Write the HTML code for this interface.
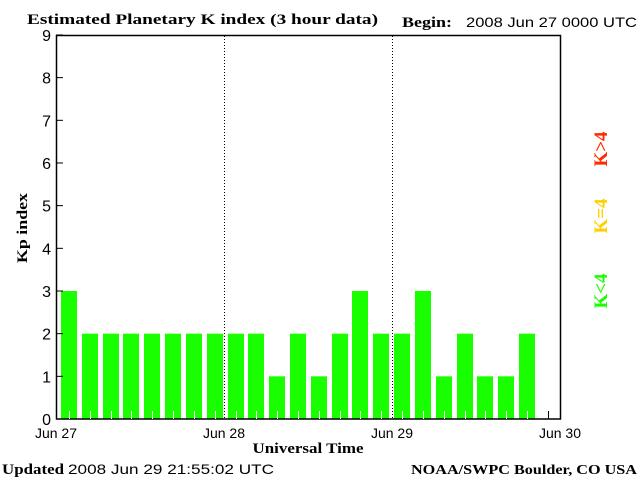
<!DOCTYPE html>
<html><head><meta charset="utf-8"><style>
body{margin:0;background:#fff;width:640px;height:480px;overflow:hidden}
</style></head><body>
<svg width="640" height="480" xmlns="http://www.w3.org/2000/svg" font-family="Liberation Sans, sans-serif">
<rect width="640" height="480" fill="#fff"/>
<text x="27" y="24" font-family="Liberation Serif, serif" font-weight="bold" font-size="15" textLength="351" lengthAdjust="spacingAndGlyphs">Estimated Planetary K index (3 hour data)</text>
<text x="402" y="27" font-family="Liberation Serif, serif" font-weight="bold" font-size="15" textLength="50" lengthAdjust="spacingAndGlyphs">Begin:</text>
<text x="466" y="27" font-size="14" textLength="171" lengthAdjust="spacingAndGlyphs">2008 Jun 27 0000 UTC</text>
<g fill="#1aff00" id="bars"></g>
<g stroke="#000" stroke-width="1" stroke-dasharray="1,2">
<line x1="224.5" y1="36" x2="224.5" y2="419"/>
<line x1="392.5" y1="36" x2="392.5" y2="419"/>
</g>
<rect x="56.5" y="35.5" width="504" height="383.5" fill="none" stroke="#000" stroke-width="1.5"/>
<g id="ticks" stroke="#000"></g>
<g font-size="16" text-anchor="end" id="ylab"></g>
<g font-size="14" text-anchor="middle">
<text x="56" y="438">Jun 27</text><text x="224" y="438">Jun 28</text><text x="392" y="438">Jun 29</text><text x="560" y="438">Jun 30</text>
</g>
<text x="308" y="453" text-anchor="middle" font-family="Liberation Serif, serif" font-weight="bold" font-size="15" textLength="111" lengthAdjust="spacingAndGlyphs">Universal Time</text>
<text transform="translate(27,228) rotate(-90)" text-anchor="middle" font-family="Liberation Serif, serif" font-weight="bold" font-size="15" textLength="70" lengthAdjust="spacingAndGlyphs">Kp index</text>
<g font-family="Liberation Serif, serif" font-weight="bold" font-size="19" text-anchor="middle">
<text transform="translate(607,149) rotate(-90)" fill="#ff2a00">K&gt;4</text>
<text transform="translate(607,216) rotate(-90)" fill="#ffd000">K=4</text>
<text transform="translate(607,291) rotate(-90)" fill="#1aff00">K&lt;4</text>
</g>
<text x="2" y="474" font-family="Liberation Serif, serif" font-weight="bold" font-size="15" textLength="62" lengthAdjust="spacingAndGlyphs">Updated</text>
<text x="68" y="474" font-size="14" textLength="206" lengthAdjust="spacingAndGlyphs">2008 Jun 29 21:55:02 UTC</text>
<text x="411" y="474" font-family="Liberation Serif, serif" font-weight="bold" font-size="14" textLength="226" lengthAdjust="spacingAndGlyphs">NOAA/SWPC Boulder, CO USA</text>
</svg>
<script>
var v=[3,2,2,2,2,2,2,2,2,2,1,2,1,2,3,2,2,3,1,2,1,1,2];
var ns="http://www.w3.org/2000/svg",b=document.getElementById('bars'),t=document.getElementById('ticks'),yl=document.getElementById('ylab');
function el(p,n,a){var e=document.createElementNS(ns,n);for(var k in a)e.setAttribute(k,a[k]);p.appendChild(e);return e;}
v.forEach(function(k,i){var x=Math.round(61+i*20.82),h=k*42.67;el(b,'rect',{x:x,y:419-h,width:16,height:h});});
for(var i=0;i<24;i++){var x=Math.round(69+i*20.82)+0.5;el(t,'line',{x1:x,y1:411,x2:x,y2:419,stroke:(i<23?'#fff':'#000')});}
for(var k=0;k<=9;k++){var y=419-k*42.67;el(t,'line',{x1:56,y1:y,x2:63,y2:y});var tx=el(yl,'text',{x:51,y:y+6});tx.textContent=k;}
</script>
</body></html>
